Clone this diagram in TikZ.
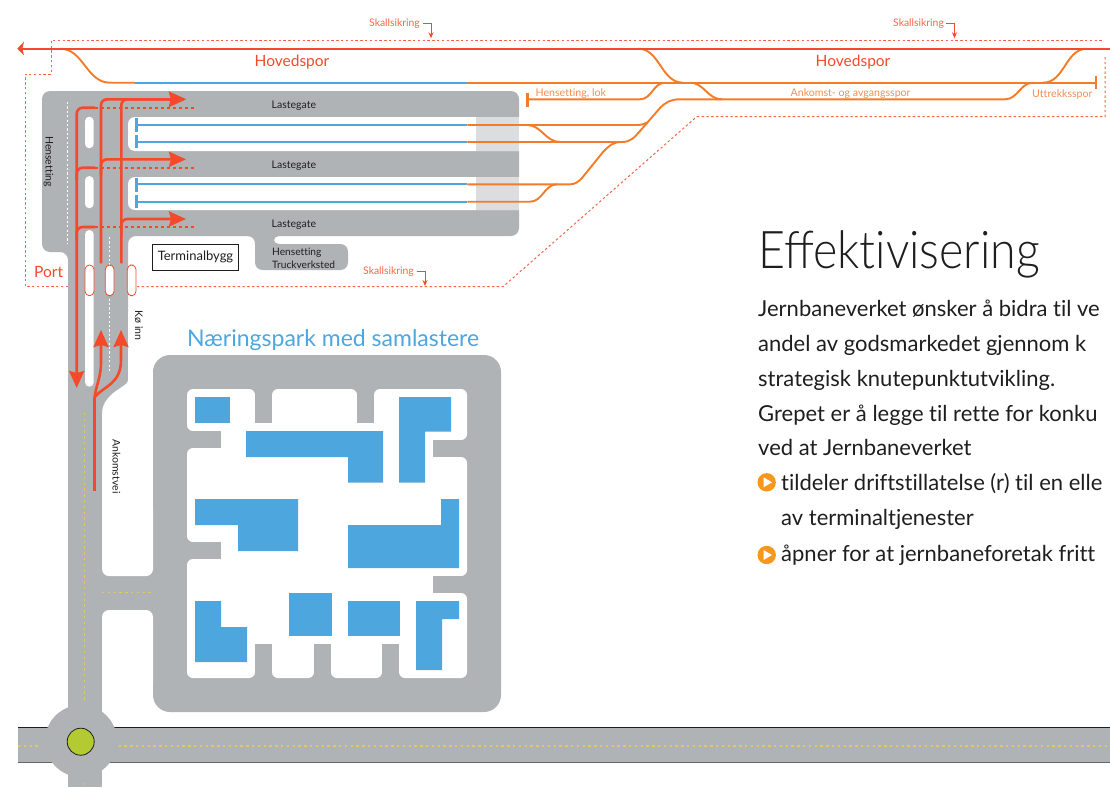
\documentclass[tikz,border=0pt]{standalone}
\usepackage{fontspec}
\usetikzlibrary{arrows.meta}
\setmainfont{Lato}[Ligatures={NoCommon}]
\newfontfamily\lightf{Lato Light}[Ligatures={NoCommon}]
\definecolor{roadgray}{HTML}{B0B3B6}
\definecolor{lightzone}{HTML}{DCDDDF}
\definecolor{railblue}{HTML}{4DA6DE}
\definecolor{railorange}{HTML}{F47B27}
\definecolor{railred}{HTML}{F4492A}
\definecolor{labelorange}{HTML}{F68D4E}
\definecolor{lane}{HTML}{E3C75F}
\definecolor{bulletorange}{HTML}{F7981D}
\definecolor{inkblack}{HTML}{1E1E1E}
\tikzset{
  txt/.style={inner sep=0pt,anchor=base west,text=inkblack},
  mapsmall/.style={txt,font=\fontsize{10.5}{12}\selectfont},
  orangelabel/.style={txt,text=labelorange,font=\fontsize{10.6}{12}\selectfont},
  redsmall/.style={txt,text=railred!85,font=\fontsize{10.4}{11}\selectfont},
  redbig/.style={txt,text=railred,font=\fontsize{15.5}{17}\selectfont},
  bodytxt/.style={txt,font=\fontsize{22}{24}\selectfont},
  track/.style={railorange,line width=1.9pt},
  bluetrack/.style={railblue,line width=1.9pt},
  bluebar/.style={railblue,line width=3pt},
  redpath/.style={railred,line width=2.6pt,rounded corners=6pt},
  redhead/.style={redpath,-{Stealth[length=17pt,width=15pt,inset=2pt]}},
  reddots/.style={railred,line width=2.3pt,dash pattern=on 3pt off 3pt},
  fence/.style={railred!85,line width=1pt,dash pattern=on 2.4pt off 2.4pt},
  lanemark/.style={lane,line width=1.2pt,dash pattern=on 2.4pt off 3.4pt},
  whitemark/.style={white,line width=1pt,dash pattern=on 2.2pt off 2.2pt},
  building/.style={fill=railblue},
  gate/.style={rounded corners=4.4pt,draw=railred,line width=.8pt,fill=white},
  slot/.style={rounded corners=4.4pt,fill=white},
  pointer/.style={railred,line width=.8pt,-{Stealth[length=6pt,width=5pt]}},
}
\begin{document}
\begin{tikzpicture}[x=1pt,y=-1pt]
\path[use as bounding box] (0,0) rectangle (1110,787);
\clip (0,0) rectangle (1110,787);
% ---------- road network
\fill[roadgray] (18,727.5) rectangle (1110,763);
\draw[inkblack,line width=1pt] (18,727.5) -- (1110,727.5);
\draw[black!60,line width=1.6pt] (18,762.5) -- (1110,762.5);
\fill[roadgray] (81,741) circle (36);
\fill[roadgray] (68,250) rectangle (102,787);
\fill[roadgray] (68,290) rectangle (128,381);
\fill[roadgray] (128,380) .. controls (128,384) and (122,386) .. (113,393)
   .. controls (106,399) and (102,405) .. (102,414) -- (80,414) -- (80,380) -- cycle;
\fill[roadgray,rounded corners=8pt] (42,91) -- (519,91) -- (519,236) -- (128,236) -- (128,320) -- (68,320) -- (68,252) -- (42,252) -- cycle;
% truck block
\fill[roadgray] (255,230) -- (255,262) .. controls (255,267) and (258,270) .. (263,270) -- (340,270)
   .. controls (345,270) and (348,267) .. (348,262) -- (348,252) .. controls (348,247) and (345,244) .. (340,244)
   -- (279,244) .. controls (276,244) and (274,242) .. (274,240) .. controls (274,238) and (276,236) .. (279,236) -- (279,230) -- cycle;
\fill[roadgray] (247,236) .. controls (252,236) and (255,239) .. (255,244) -- (255,236) -- cycle;
% terminal white bays
\fill[white,rounded corners=7pt] (128,117) rectangle (535,151);
\fill[white,rounded corners=7pt] (128,177) rectangle (535,210);
\fill[lightzone] (476,117) rectangle (519,151);
\fill[lightzone] (476,177) rectangle (519,210);
\fill[slot] (85,116.7) rectangle (93.7,148.3);
\fill[slot] (85,176) rectangle (93.7,208.3);
\fill[slot] (85,230) rectangle (93.7,386.7);
% park
\fill[roadgray,rounded corners=17pt] (153,355) rectangle (501,712);
\fill[roadgray] (100,560) rectangle (160,630);
\fill[white,rounded corners=7pt] (102,500) rectangle (153,576);
\fill[white,rounded corners=7pt] (102,610) rectangle (153,690);
\fill[white,rounded corners=6pt] (187,389) -- (255,389) -- (255,423) -- (272,423) -- (272,389) -- (357,389) -- (357,423) -- (374,423) -- (374,389)
 -- (467,389) -- (467,440) -- (433,440) -- (433,457) -- (467,457) -- (467,576) -- (433,576) -- (433,593) -- (467,593) -- (467,678)
 -- (399,678) -- (399,644) -- (382,644) -- (382,678) -- (331,678) -- (331,644) -- (314,644) -- (314,678) -- (272,678) -- (272,644) -- (255,644) -- (255,678)
 -- (187,678) -- (187,559) -- (221,559) -- (221,542) -- (187,542) -- (187,448) -- (221,448) -- (221,431) -- (187,431) -- cycle;
\fill[roadgray] (255,385) rectangle (272,423);
\fill[roadgray] (357,385) rectangle (374,423);
\fill[roadgray] (433,440) rectangle (471,457);
\fill[roadgray] (433,576) rectangle (471,593);
\fill[roadgray] (183,431) rectangle (221,448);
\fill[roadgray] (183,542) rectangle (221,559);
\fill[roadgray] (255,644) rectangle (272,682);
\fill[roadgray] (314,644) rectangle (331,682);
\fill[roadgray] (382,644) rectangle (399,682);
% buildings
\fill[building] (195,397) rectangle (230,422.7);
\fill[building] (246,431) -- (383,431) -- (383,482.7) -- (348,482.7) -- (348,457) -- (246,457) -- cycle;
\fill[building] (399,397) -- (451,397) -- (451,431.7) -- (425,431.7) -- (425,482.7) -- (399,482.7) -- cycle;
\fill[building] (195,499) -- (298,499) -- (298,551) -- (238,551) -- (238,525) -- (195,525) -- cycle;
\fill[building] (441,499) -- (459,499) -- (459,568) -- (348,568) -- (348,525) -- (441,525) -- cycle;
\fill[building] (195,601) -- (221,601) -- (221,627) -- (247,627) -- (247,662) -- (195,662) -- cycle;
\fill[building] (289,593) rectangle (332,636);
\fill[building] (348,601) rectangle (400,636);
\fill[building] (416,601) -- (459,601) -- (459,619) -- (442,619) -- (442,670) -- (416,670) -- cycle;
% lane markings
\draw[lanemark] (84.7,413) -- (84.7,703);
\draw[lanemark] (84.7,783) -- (84.7,787);
\draw[lanemark] (102,592.7) -- (153,592.7);
\draw[lanemark] (18,746) -- (41,746);
\draw[lanemark] (118.5,746) -- (1110,746);
\draw[whitemark] (67.7,102) -- (67.7,244);
\draw[whitemark] (109.3,237) -- (109.3,372);
\node[circle,draw=inkblack,line width=.8pt,fill={rgb,255:red,179;green,202;blue,51},minimum size=27pt,inner sep=0pt] (hub) at (80.7,741.7) {};
% ---------- fence
\draw[fence] (68,286.7) -- (25.3,286.7) -- (25.3,74) -- (51,74) -- (51,40.3) -- (1102.7,40.3);
\draw[fence] (1105,57) -- (1105,116.7) -- (696.7,116.7) -- (503,286.7) -- (137,286.7);
% ---------- rails
\draw[bluetrack] (135,82.7) -- (467.3,82.7);
\draw[track] (135,82.7) -- (110,82.7) to[out=180,in=0] (60,48.7);
\draw[track] (467.3,82.7) -- (1096,82.7);
\draw[track] (638,48.7) to[out=0,in=180] (683,82.7);
\draw[track] (527.3,99.3) -- (640,99.3) to[out=0,in=180] (665,82.7);
\draw[track] (690,82.7) to[out=0,in=180] (721.7,99.3) -- (1005,99.3) to[out=0,in=180] (1033,82.7);
\draw[track] (1043,82.7) to[out=0,in=180] (1087,48.7);
\draw[track] (467.3,125) -- (636,125) .. controls (642,125) and (645,124) .. (648,122);
\draw[track] (467.3,142) -- (622,142) .. controls (630,142) and (634,138) .. (640,131) -- (660,108) .. controls (666,102) and (671,99.3) .. (680,99.3) -- (722,99.3);
\draw[track] (527,125) to[out=0,in=180] (560,142);
\draw[track] (467.3,184.3) -- (570,184.3) .. controls (575,184.3) and (578,182) .. (582,178) -- (603,152) .. controls (610,145) and (613,142) .. (622,142);
\draw[track] (467.3,201.7) -- (530,201.7) to[out=0,in=180] (557,184.3);
\foreach \yy/\ya/\yb in {125/118.3/131.7,142/135/148.3,184.3/177.7/191.7,201.7/195/208.3}{
  \draw[bluetrack] (136,\yy) -- (467.3,\yy);
  \draw[bluebar] (136.5,\ya) -- (136.5,\yb);
}
\draw[railorange,line width=2.6pt] (527.3,93.3) -- (527.3,106.7);
\draw[railorange,line width=2.6pt] (1096,76) -- (1096,89);
\draw[railred,line width=2.1pt] (21,48.7) -- (1110,48.7);
\fill[railred] (17.3,48.7) -- (24,41.7) -- (22.4,48.7) -- (24,55.5) -- cycle;
% ---------- red traffic arrows
\draw[redhead] (95,107.7) -- (76.7,107.7) -- (76.7,388);
\draw[redpath] (95,167.7) -- (76.7,167.7) -- (76.7,180);
\draw[redpath] (95,227) -- (76.7,227) -- (76.7,240);
\foreach \yy in {108.3,167.7,227}{\draw[reddots] (95,\yy) -- (195,\yy);}
\draw[redhead] (101,263.3) -- (101,99.3) -- (186,99.3);
\draw[redhead] (121.3,263.3) -- (121.3,99.3) -- (186,99.3);
\draw[redhead] (101,175) -- (101,159.3) -- (186,159.3);
\draw[redhead] (121.3,235) -- (121.3,219) -- (186,219);
\draw[railred,line width=2.6pt] (94.7,490.7) -- (94.7,397);
\draw[railred,line width=2.6pt,-{Stealth[length=17pt,width=15pt,inset=2pt]}] (94.7,397) .. controls (96,385) and (101,378) .. (101,362) -- (101,330);
\draw[railred,line width=2.6pt,-{Stealth[length=17pt,width=15pt,inset=2pt]}] (94.7,397) .. controls (104,386) and (121,384) .. (121,360) -- (121,330);
% gates
\fill[gate] (85,265) rectangle (94,295.7);
\fill[gate] (105.3,265) rectangle (114,295.7);
\fill[gate] (127.3,265) rectangle (136,295.7);
% ---------- pointers
\coordinate (pa) at (423,23.3); \coordinate (pb) at (946,23.3); \coordinate (pc) at (416.5,271);
\draw[pointer] (pa) -- ++(8,0) -- ++(0,15);
\draw[pointer] (pb) -- ++(8.5,0) -- ++(0,15);
\draw[pointer] (pc) -- ++(8.5,0) -- ++(0,15);
% ---------- map text
\node[redsmall] (s1) at (369,27) {Skallsikring};
\node[redsmall] (s2) at (893,27) {Skallsikring};
\node[redsmall] (s3) at (363,274) {Skallsikring};
\node[redbig] (h1) at (254.5,66) {Hovedspor};
\node[redbig] (h2) at (815.5,66) {Hovedspor};
\node[redbig] (port) at (34,277.5) {Port};
\node[orangelabel] (l1) at (535.5,96.7) {Hensetting, lok};
\node[orangelabel] (l2) at (790.5,96) {Ankomst- og avgangsspor};
\node[orangelabel] (l3) at (1032,97) {Uttrekksspor};
\node[mapsmall] (g1) at (271.5,108) {Lastegate};
\node[mapsmall] (g2) at (271.5,168) {Lastegate};
\node[mapsmall] (g3) at (271.5,227) {Lastegate};
\node[mapsmall,font=\fontsize{10.2}{12}\selectfont] (t1) at (272,255.5) {Hensetting};
\node[mapsmall,font=\fontsize{10.2}{12}\selectfont] (t2) at (272,268) {Truckverksted};
\node[mapsmall,rotate=-90,anchor=base] (r1) at (45.5,161.5) {Hensetting};
\node[mapsmall,rotate=-90,anchor=base] (r2) at (135,325.5) {Kø inn};
\node[mapsmall,rotate=-90,anchor=base] (r3) at (112.5,466.5) {Ankomstvei};
\node[draw=inkblack,line width=1pt,fill=white,minimum width=85.5pt,minimum height=26pt,inner sep=0pt,text=inkblack,font=\fontsize{13}{15}\selectfont] (tb) at (195.5,257) {Terminalbygg};
\node[txt,text=railblue,font=\fontsize{23}{26}\selectfont] (np) at (187,346) {Næringspark med samlastere};
% ---------- article
\node[txt,font=\lightf\fontsize{52}{56}\selectfont] (head) at (758,268) {\scalebox{.895}[1]{Eﬀektivisering}};
\node[bodytxt] (b1) at (758,316.7) {Jernbaneverket ønsker å bidra til ve};
\node[bodytxt] (b2) at (758,351.7) {andel av godsmarkedet gjennom k};
\node[bodytxt] (b3) at (758,386.7) {strategisk knutepunktutvikling.};
\node[bodytxt] (b4) at (758,421.7) {Grepet er å legge til rette for konku};
\node[bodytxt] (b5) at (758,455.7) {ved at Jernbaneverket};
\node[bodytxt] (b6) at (781,490) {tildeler driftstillatelse (r) til en elle};
\node[bodytxt] (b7) at (781,525) {av terminaltjenester};
\node[bodytxt] (b8) at (781,561.7) {åpner for at jernbaneforetak fritt};
\foreach \cy in {482.3,555}{
  \fill[bulletorange] (766.7,\cy) circle (9.2);
  \fill[white] (763.5,\cy-5) -- (772,\cy) -- (763.5,\cy+5) -- cycle;
}
\end{tikzpicture}
\end{document}
